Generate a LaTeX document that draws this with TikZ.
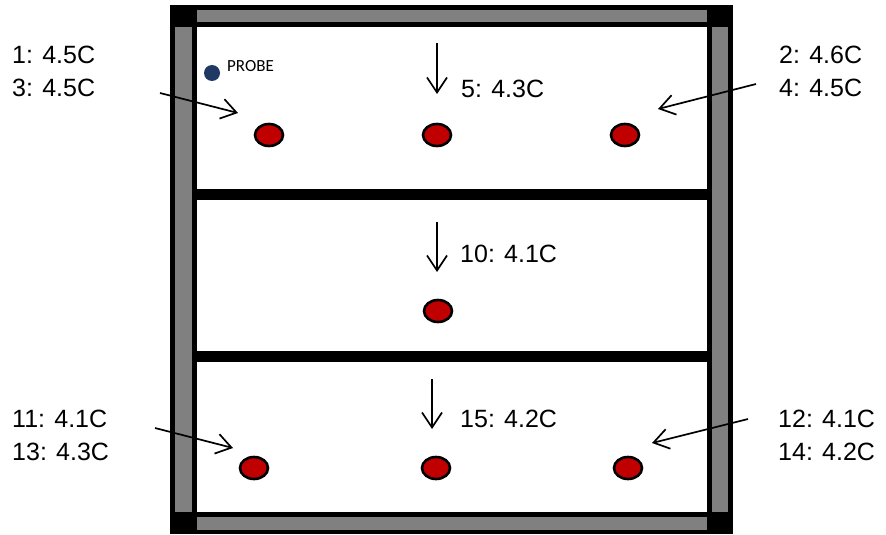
\documentclass[tikz,border=0pt]{standalone}
\usepackage{fontspec}
\setmainfont{Liberation Sans}
\newfontfamily\probefont{Carlito}
\usetikzlibrary{arrows.meta,shapes.geometric}
\definecolor{jarred}{HTML}{C00000}
\definecolor{postgray}{HTML}{808080}
\definecolor{probeblue}{HTML}{1F3864}
\tikzset{
  jar/.style={shape=ellipse, draw=black, fill=jarred, line width=2.6pt, minimum width=28pt, minimum height=22pt, inner sep=0pt},
  temp/.style={anchor=base west, inner sep=0pt, align=left, font=\fontsize{25}{33}\selectfont},
  flow/.style={-{Straight Barb[length=15pt,width=20pt]}, line width=1.7pt, draw=black},
}
\begin{document}
\begin{tikzpicture}[x=1pt, y=-1pt]
\useasboundingbox (0,0) rectangle (886,535);
% frame of the rack
\fill[black] (170,5) rectangle (733,534);
\fill[white] (197,27) rectangle (707,512);
\fill[postgray] (175,27) rectangle (192,512);
\fill[postgray] (712,27) rectangle (728,512);
\fill[postgray] (197,10) rectangle (707,22);
\fill[postgray] (197,517) rectangle (707,530);
% shelves
\fill[black] (197,189) rectangle (707,200);
\fill[black] (197,351) rectangle (707,362);
% probe
\node[shape=circle, fill=probeblue, minimum size=16pt, inner sep=0pt] (P) at (212,73) {};
\node[anchor=base west, inner sep=0pt, font=\probefont\fontsize{17}{20}\selectfont] (Plbl) at (227,71) {PROBE};
% jars
\node[jar] (J1) at (269,135) {};
\node[jar] (J5) at (437,135) {};
\node[jar] (J2) at (625,135) {};
\node[jar] (J10) at (438,311) {};
\node[jar] (J11) at (254,468) {};
\node[jar] (J15) at (436,468) {};
\node[jar] (J12) at (628,468) {};
% readings (base = last line)
\node[temp] (T13) at (12,96) {1: 4.5C\\3: 4.5C};
\node[temp] (T24) at (779,96) {2: 4.6C\\4: 4.5C};
\node[temp] (T5) at (461,97) {5: 4.3C};
\node[temp] (T10) at (460,262) {10: 4.1C};
\node[temp] (T15) at (460,427) {15: 4.2C};
\node[temp] (T1113) at (12,460) {11: 4.1C\\13: 4.3C};
\node[temp] (T1214) at (778,460) {12: 4.1C\\14: 4.2C};
% arrow ends
\coordinate (a1) at (160,93);   \coordinate (b1) at (238,113);
\coordinate (a2) at (756,84);   \coordinate (b2) at (658,109);
\coordinate (a3) at (155,428);  \coordinate (b3) at (233,448);
\coordinate (a4) at (748,419);  \coordinate (b4) at (652,443);
\coordinate (a5) at (437,43);   \coordinate (b5) at (437,94);
\coordinate (a6) at (437,222);  \coordinate (b6) at (437,272);
\coordinate (a7) at (432,379);  \coordinate (b7) at (432,429);
\draw[flow] (a1) -- (b1);
\draw[flow] (a2) -- (b2);
\draw[flow] (a3) -- (b3);
\draw[flow] (a4) -- (b4);
\draw[flow] (a5) -- (b5);
\draw[flow] (a6) -- (b6);
\draw[flow] (a7) -- (b7);
\end{tikzpicture}
\end{document}
